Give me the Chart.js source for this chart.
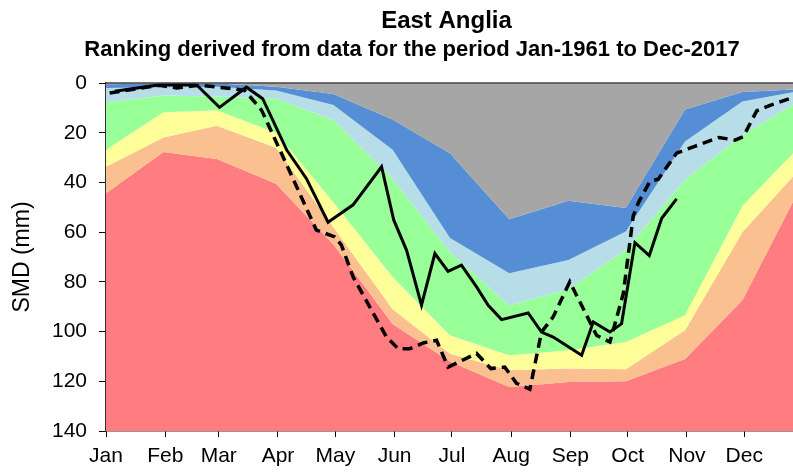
<!DOCTYPE html>
<html>
<head>
<meta charset="utf-8">
<script src="https://cdn.jsdelivr.net/npm/chart.js@4.4.1/dist/chart.umd.min.js"></script>
<style>
  html, body { margin: 0; padding: 0; background: #fff; }
</style>
</head>
<body>
<canvas id="smdChart" width="793" height="472"></canvas>
<script>
const FONT = '"Liberation Sans", Arial, sans-serif';

// axis labels (day of year where each month starts)
const monthNames = ['Jan', 'Feb', 'Mar', 'Apr', 'May', 'Jun', 'Jul', 'Aug', 'Sep', 'Oct', 'Nov', 'Dec'];
const monthStarts = [0, 31, 59, 90, 120, 151, 181, 212, 243, 273, 304, 334];

// ranking bands, one value per month end (SMD, mm)
const bandDays = [0, 30, 58, 89, 119, 150, 180, 211, 242, 272, 303, 333, 364];
const edgeGrey = [0.5, 0.2, 0.2, 1.5, 4.4, 14.7, 28.3, 54.8, 47.4, 50.3, 10.7, 3.6, 2.5];
const edgeBlue = [2.0, 1.7, 1.5, 3.0, 8.9, 26.9, 62.4, 76.5, 71.2, 59.7, 23.5, 7.4, 3.1];
const edgeLightBlue = [7.7, 5.0, 5.4, 6.2, 14.9, 38.5, 68, 89.4, 83, 67, 39, 21, 6.6];
const edgeGreen = [26.9, 11.8, 11.0, 20, 48, 78, 101.5, 109.5, 107.5, 104.2, 93.4, 49.5, 24.7];
const edgeYellow = [33.7, 21.9, 17.2, 26, 58, 91, 108.9, 115.6, 114.9, 115.2, 99.5, 60, 33.8];
const edgeOrange = [44.4, 27.8, 30.6, 40.5, 65, 97, 112, 122.3, 120.3, 120, 111, 87.4, 41];

// solid line
const solidDays = [4.6, 28.1, 47.3, 59.4, 73.5, 82, 94.6, 104.9, 116.2, 129.3, 144.2, 150.6, 157.3, 165.1, 172.1,
    179, 186, 193.9, 200, 207, 220.9, 227.9, 234, 248.9, 255, 263.7, 269.8, 276.8, 284.3, 290.8, 298.6];
const solidSmd = [3.3, 0.7, 0.7, 9.8, 1.7, 6.3, 27, 38.5, 56, 49, 33.7, 55.2, 67.3, 89.4, 68.6,
    75.8, 73.3, 82, 89.4, 95.2, 92.5, 100.2, 102.2, 109.5, 96.1, 100.2, 96.8, 64.2, 69.4, 54.4, 46.6];

// dashed line
const dashDays = [1.9, 28.1, 36.9, 49.1, 66.5, 72.6, 81.4, 91.8, 110.1, 119.7, 123.2, 129.3, 138, 146.8, 152.9,
    159, 166, 173, 179, 193.9, 201.4, 208.7, 214.8, 221.8, 227.9, 234, 242.7, 249.7, 256.7, 263.7,
    270.7, 275.9, 278.5, 284.6, 289, 298.6, 307.7, 320.8, 329.2, 333.5, 340.5, 347.5, 359.5];
const dashSmd = [4, 0.9, 2.0, 0.9, 2.3, 3, 10.9, 28.3, 59.2, 61.9, 65.2, 78, 90.1, 102.2, 106.9,
    106.9, 104.6, 103.5, 114.3, 108.8, 114.9, 114.3, 120.8, 123.2, 100.2, 94.1, 80, 90.7, 101.5, 104.2,
    84.7, 53.5, 48.3, 39.6, 38.7, 28.2, 25.6, 21.9, 23, 21.6, 11.2, 9, 5.8];

function pts(xs, ys) {
    return xs.map((x, i) => ({ x: x, y: ys[i] }));
}

function band(values, color, fill) {
    return {
        data: pts(bandDays, values),
        backgroundColor: color,
        borderWidth: 0,
        pointRadius: 0,
        fill: fill,
        order: 1
    };
}

// titles + frame line on top of plot
const headerText = {
    id: 'headerText',
    afterDraw(chart) {
        const c = chart.ctx;
        const a = chart.chartArea;
        c.save();
        c.fillStyle = '#000';
        c.textAlign = 'center';
        c.font = 'bold 24px ' + FONT;
        c.fillText('East Anglia', (a.left + a.right) / 2 - 3, 28);
        c.font = 'bold 22px ' + FONT;
        c.fillText('Ranking derived from data for the period Jan-1961 to Dec-2017', 412, 56);
        c.strokeStyle = '#444';
        c.lineWidth = 1.5;
        c.beginPath();
        c.moveTo(a.left, a.top);
        c.lineTo(a.right, a.top);
        c.stroke();
        c.restore();
    }
};

const ctx = document.getElementById('smdChart').getContext('2d');
const smdChart = new Chart(ctx, {
    type: 'line',
    data: {
        datasets: [
            band(edgeGrey, '#a6a6a6', { value: 0 }),
            band(edgeBlue, '#558ed5', '-1'),
            band(edgeLightBlue, '#b7dee8', '-1'),
            band(edgeGreen, '#99ff99', '-1'),
            band(edgeYellow, '#ffff99', '-1'),
            band(edgeOrange, '#fac090', '-1'),
            band(edgeOrange, '#ff7c80', { value: 140 }),
            {
                data: pts(solidDays, solidSmd),
                borderColor: '#000',
                borderWidth: 3,
                pointRadius: 0,
                fill: false,
                order: 0
            },
            {
                data: pts(dashDays, dashSmd),
                borderColor: '#000',
                borderWidth: 3.5,
                borderDash: [10, 6],
                pointRadius: 0,
                fill: false,
                order: 0
            }
        ]
    },
    options: {
        responsive: false,
        animation: false,
        devicePixelRatio: 1,
        layout: { padding: { top: 83, right: 0, bottom: 0, left: 0 } },
        plugins: {
            legend: { display: false },
            tooltip: { enabled: false }
        },
        scales: {
            x: {
                type: 'linear',
                min: 0,
                max: 359.5,
                afterBuildTicks: (s) => { s.ticks = monthStarts.map(v => ({ value: v })); },
                afterFit: (s) => { s.height = 41; },
                ticks: {
                    autoSkip: false,
                    maxRotation: 0,
                    padding: 7,
                    color: '#000',
                    font: { size: 21, family: FONT },
                    callback: (v, i) => monthNames[i]
                },
                grid: { drawOnChartArea: false, tickLength: 6, color: '#000' },
                border: { color: '#333', width: 1.5 }
            },
            y: {
                min: 0,
                max: 140,
                reverse: true,
                afterFit: (s) => { s.width = 106; },
                ticks: {
                    stepSize: 20,
                    padding: 12,
                    color: '#000',
                    font: { size: 21, family: FONT }
                },
                grid: { drawOnChartArea: false, tickLength: 7, color: '#000' },
                border: { color: '#333', width: 1.5 },
                title: {
                    display: true,
                    text: 'SMD (mm)',
                    color: '#000',
                    font: { size: 23, family: FONT },
                    padding: { top: 9, bottom: 0 }
                }
            }
        }
    },
    plugins: [headerText]
});
</script>
</body>
</html>
